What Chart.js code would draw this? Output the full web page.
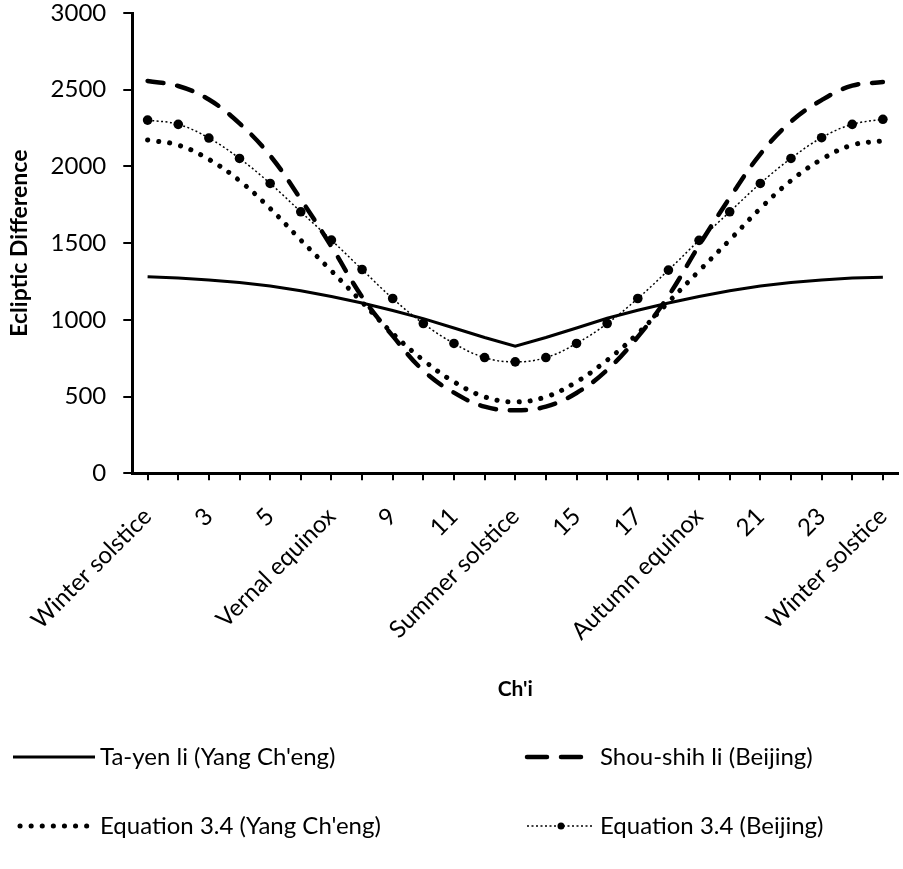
<!DOCTYPE html>
<html lang="en">
<head>
<meta charset="UTF-8">
<title>Ecliptic Difference by Ch'i</title>
<script src="https://cdn.jsdelivr.net/npm/chart.js"></script>
<style>
  html, body { margin: 0; padding: 0; background: #fff; }
  .wrap { position: relative; width: 903px; height: 869px; }
</style>
</head>
<body>
<div class="wrap"><canvas id="chart" width="903" height="869"></canvas></div>
<script>
// 25 ch'i, winter solstice to winter solstice
const categories = ['Winter solstice', '2', '3', '4', '5', '6', 'Vernal equinox', '8', '9', '10', '11', '12',
  'Summer solstice', '14', '15', '16', '17', '18', 'Autumn equinox', '20', '21', '22', '23', '24', 'Winter solstice'];

const yTicks = [0, 500, 1000, 1500, 2000, 2500, 3000];

const tayenYang = [1280, 1272, 1260, 1243, 1220, 1190, 1152, 1110, 1061, 1008, 947, 885, 828,
  885, 947, 1010, 1062, 1110, 1152, 1190, 1220, 1243, 1260, 1272, 1277];
const shoushihBeijing = [2557, 2524, 2436, 2280, 2070, 1786, 1478, 1150, 895, 669, 525, 434, 411,
  434, 523, 673, 889, 1156, 1485, 1795, 2080, 2292, 2432, 2526, 2550];
const eqYang = [2172, 2139, 2046, 1907, 1726, 1520, 1319, 1115, 911, 737, 596, 498, 465,
  498, 596, 737, 911, 1115, 1319, 1520, 1726, 1907, 2046, 2139, 2167];
const eqBeijing = [2302, 2274, 2185, 2052, 1889, 1704, 1520, 1328, 1139, 976, 846, 754, 726,
  754, 846, 976, 1139, 1324, 1518, 1704, 1889, 2052, 2187, 2274, 2307];

const FONT = 'Lato, "Open Sans", sans-serif';

// two-column legend drawn under the x axis title
const legendPlugin = {
  id: 'gridLegend',
  afterDraw(chart, args, opts) {
    const c = chart.ctx;
    chart.data.datasets.forEach((ds, i) => {
      const s = opts.slots[i];
      c.save();
      c.strokeStyle = '#000';
      c.fillStyle = '#000';
      c.lineWidth = ds.borderWidth;
      c.lineCap = ds.borderCapStyle || 'butt';
      c.setLineDash(ds.legendDash || ds.borderDash || []);
      c.beginPath();
      c.moveTo(s.x0, s.y);
      c.lineTo(s.x1, s.y);
      c.stroke();
      if (ds.pointRadius > 0) {
        c.setLineDash([]);
        c.beginPath();
        c.arc(s.px, s.y, 3.5, 0, Math.PI * 2);
        c.fill();
      }
      c.font = opts.font;
      c.textBaseline = 'middle';
      c.textAlign = 'left';
      c.fillText(ds.label, s.tx, s.y);
      c.restore();
    });
  }
};

new Chart(document.getElementById('chart'), {
  type: 'line',
  data: {
    labels: categories,
    datasets: [
      {
        label: "Ta-yen li (Yang Ch'eng)",
        data: tayenYang,
        borderColor: '#000',
        borderWidth: 3,
        pointRadius: 0,
        tension: 0
      },
      {
        label: 'Shou-shih li (Beijing)',
        data: shoushihBeijing,
        borderColor: '#000',
        borderWidth: 4.5,
        borderDash: [16, 14],
        legendDash: [20, 14],
        borderCapStyle: 'round',
        pointRadius: 0,
        tension: 0.4
      },
      {
        label: "Equation 3.4 (Yang Ch'eng)",
        data: eqYang,
        borderColor: '#000',
        borderWidth: 5,
        borderDash: [0.1, 11],
        borderCapStyle: 'round',
        pointRadius: 0,
        tension: 0.4
      },
      {
        label: 'Equation 3.4 (Beijing)',
        data: eqBeijing,
        borderColor: '#000',
        borderWidth: 1.5,
        borderDash: [2, 2.5],
        pointRadius: 4.8,
        pointBackgroundColor: '#000',
        pointBorderColor: '#000',
        pointBorderWidth: 0,
        tension: 0.4
      }
    ]
  },
  options: {
    responsive: false,
    animation: false,
    devicePixelRatio: 1,
    layout: { padding: { top: 0, right: -8, bottom: 167, left: 6 } },
    plugins: {
      legend: { display: false },
      tooltip: { enabled: false },
      gridLegend: {
        font: '24px ' + FONT,
        slots: [
          { x0: 13, x1: 95, tx: 100, y: 757 },
          { x0: 527, x1: 585, tx: 600, y: 757 },
          { x0: 20, x1: 95, tx: 100, y: 826 },
          { x0: 527, x1: 593, px: 561, tx: 600, y: 826 }
        ]
      }
    },
    scales: {
      x: {
        type: 'category',
        offset: true,
        // rotated labels fit inside the canvas already, so no extra side padding
        afterFit: (scale) => {
          scale.paddingLeft = 0;
          scale.paddingRight = -8;
          scale.paddingTop = 0;
          scale.paddingBottom = 0;
        },
        border: { display: true, color: '#000', width: 3 },
        grid: { display: true, drawOnChartArea: false, offset: false, tickLength: 7, color: '#000', lineWidth: 2 },
        ticks: {
          autoSkip: false,
          maxRotation: 45,
          minRotation: 45,
          padding: 22,
          color: '#000',
          font: { family: FONT, size: 24 },
          callback: (v, i) => (i % 2 === 0 ? categories[i] : '')
        },
        title: {
          display: true,
          text: "Ch'i",
          color: '#000',
          font: { family: FONT, size: 21, weight: 'bold' },
          padding: { top: 9, bottom: 0 }
        }
      },
      y: {
        min: yTicks[0],
        max: yTicks[yTicks.length - 1],
        afterBuildTicks: (scale) => { scale.ticks = yTicks.map(v => ({ value: v })); },
        afterFit: (scale) => {
          scale.paddingTop = 13;
          scale.paddingBottom = 0;
          scale.paddingRight = -8;
        },
        border: { display: true, color: '#000', width: 3 },
        grid: { display: true, drawOnChartArea: false, tickLength: 9, color: '#000', lineWidth: 2 },
        ticks: {
          padding: 17,
          color: '#000',
          font: { family: FONT, size: 24 },
          callback: (v) => String(v)
        },
        title: {
          display: true,
          text: 'Ecliptic Difference',
          color: '#000',
          font: { family: FONT, size: 23, weight: 'bold' },
          padding: { top: 0, bottom: 0 }
        }
      }
    }
  },
  plugins: [legendPlugin]
});
</script>
</body>
</html>
